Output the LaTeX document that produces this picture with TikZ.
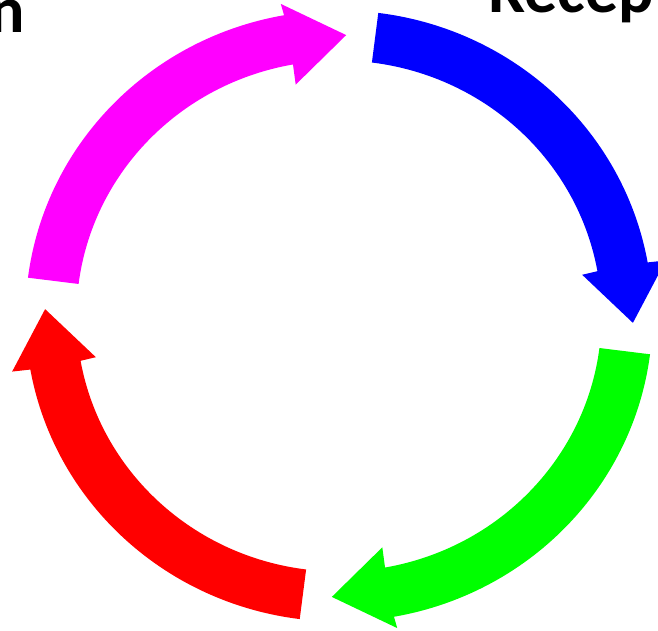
\documentclass[tikz,border=0pt]{standalone}
\usepackage{fontspec}
\setmainfont{Carlito}
\usepackage{tikz}
\usetikzlibrary{calc}
\definecolor{ringmagenta}{RGB}{255,0,255}
% one thick ring piece with its head, clockwise from the start angle
\def\cyclearrow[#1](#2){%
	\pgfmathsetmacro\baseang{#2-72.7}%
	\pgfmathsetmacro\tipang{#2-84.2}%
	\fill[#1] (#2:313.5 and 305.5) arc[start angle=#2, end angle=\baseang, x radius=313.5, y radius=305.5]
		-- (\baseang:332 and 317) -- (\tipang:294 and 281) -- (\baseang:247 and 235)
		-- (\baseang:262.5 and 255.5) arc[start angle=\baseang, end angle=#2, x radius=262.5, y radius=255.5] -- cycle;}
\tikzset{label text/.style={inner sep=0pt, font=\fontsize{37.6}{45}\selectfont\bfseries}}

\begin{document}
\begin{tikzpicture}[x=0.02cm, y=0.02cm]
		%%%%% START %%%%%
		\useasboundingbox (0, 0) rectangle (658, 631);
		\clip (0, 0) rectangle (658, 631);
		
		\begin{scope}[shift={(339, 315)}]
			\cyclearrow[blue](82.8)
			\cyclearrow[green](-7.2)
			\cyclearrow[red](-97.2)
			\cyclearrow[ringmagenta](-187.2)
		\end{scope}
		
		\node[label text, anchor=base east] (leftword) at (25, 598) {n};
		\node[label text, anchor=base west] (recep) at (488, 618.3) {Recep};
		%%%%% END %%%%%
	\end{tikzpicture}
\end{document}
